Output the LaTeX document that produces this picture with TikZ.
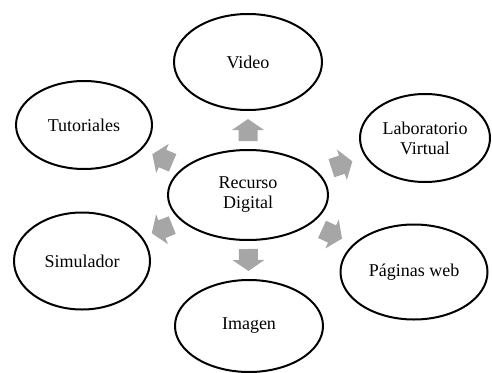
\documentclass[tikz,border=0pt]{standalone}
\usepackage{fontspec}
\setmainfont{Liberation Serif}
\usepackage{tikz}
\usetikzlibrary{shapes.geometric,positioning,calc}

\begin{document}
\begin{tikzpicture}[x=1pt,y=-1pt,
  elip/.style={ellipse,draw=black,line width=2pt,inner sep=0pt,align=center,
    font=\fontsize{18}{20}\selectfont},
  blockarr/.pic={\fill[gray!70] (-11,-9.5)--(0,-9.5)--(0,-16)--(11,0)--(0,16)--(0,9.5)--(-11,9.5)--cycle;}]
  \useasboundingbox (0,0) rectangle (492,372);
  \node[elip,minimum width=160,minimum height=90] (rd) at (248,195) {Recurso\\Digital};
  \node[elip,minimum width=148,minimum height=96] (vid) at (248,62) {Video};
  \node[elip,minimum width=136,minimum height=88] (tut) at (84,125) {Tutoriales};
  \node[elip,minimum width=130,minimum height=88] (lab) at (425,138) {Laboratorio\\Virtual};
  \node[elip,minimum width=136,minimum height=97] (sim) at (82,261) {Simulador};
  \node[elip,minimum width=147,minimum height=95] (pag) at (414,272) {P\'aginas web};
  \node[elip,minimum width=148,minimum height=92] (img) at (249,326) {Imagen};
  % flechas grises
  \foreach \n in {vid,tut,lab,sim,pag,img}
    \path (rd) -- pic[midway,sloped,allow upside down]{blockarr} (\n);
\end{tikzpicture}
\end{document}
